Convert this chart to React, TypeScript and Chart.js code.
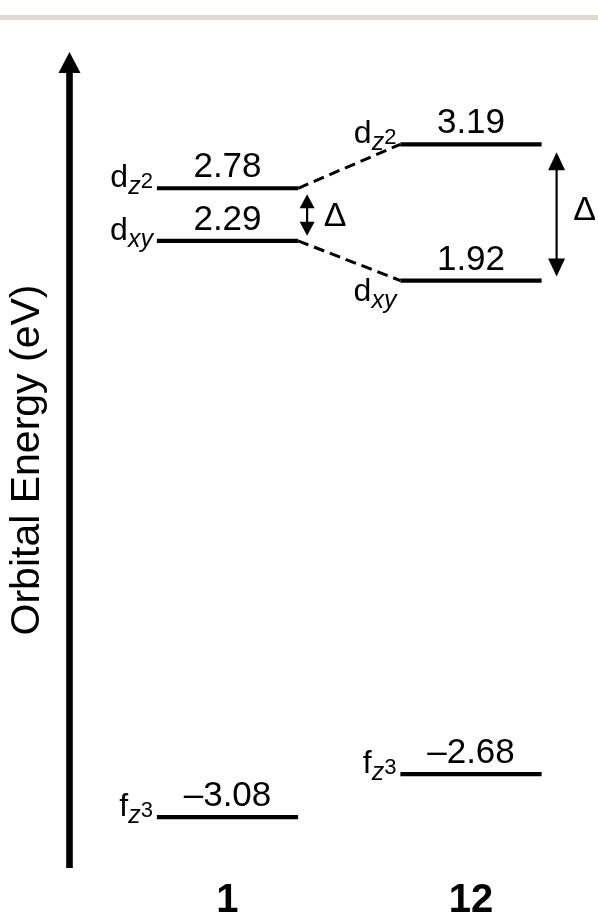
import React, { useEffect, useRef } from 'react';
import { Chart, registerables } from 'chart.js';

Chart.register(...registerables);

// ---- data ----
const compounds = ['1', '12'];
const compoundPositions = [1, 2];
const orbitals = ['dz2', 'dxy', 'fz3'];
const energies1 = [2.78, 2.29, -3.08];
const energies12 = [3.19, 1.92, -2.68];
const correlatedOrbitals = [0, 1]; // d orbitals joined by dashed lines
const axisTitle = 'Orbital Energy (eV)';
const gapSymbol = 'Δ';

const FONT = "'Liberation Sans', Arial, Helvetica, sans-serif";
const HW = 0.29; // half width of a level line (x units)

function fmt(v: number): string {
  return v < 0 ? '\u2013' + Math.abs(v).toFixed(2) : v.toFixed(2);
}

type Part = { t: string; size: number; italic: boolean; dy: number };

function orbitalParts(name: string): Part[] {
  const parts: Part[] = [{ t: name[0], size: 32, italic: false, dy: 0 }];
  const rest = name.slice(1);
  for (const ch of rest) {
    if (/[0-9]/.test(ch)) parts.push({ t: ch, size: 22, italic: false, dy: 1 });
    else parts.push({ t: ch, size: 25, italic: true, dy: 7 });
  }
  return parts;
}

function drawParts(ctx: CanvasRenderingContext2D, parts: Part[], xRight: number, baseline: number) {
  let total = 0;
  const widths: number[] = [];
  for (const p of parts) {
    ctx.font = `${p.italic ? 'italic ' : ''}${p.size}px ${FONT}`;
    const w = ctx.measureText(p.t).width;
    widths.push(w);
    total += w;
  }
  let xx = xRight - total;
  ctx.textAlign = 'left';
  ctx.textBaseline = 'alphabetic';
  parts.forEach((p, i) => {
    ctx.font = `${p.italic ? 'italic ' : ''}${p.size}px ${FONT}`;
    ctx.fillText(p.t, xx, baseline + p.dy);
    xx += widths[i];
  });
}

function drawDoubleArrow(ctx: CanvasRenderingContext2D, x: number, y1: number, y2: number, hw: number, hl: number) {
  ctx.save();
  ctx.fillStyle = '#000';
  ctx.strokeStyle = '#000';
  ctx.lineWidth = 2.2;
  ctx.beginPath();
  ctx.moveTo(x, y1 + hl - 1);
  ctx.lineTo(x, y2 - hl + 1);
  ctx.stroke();
  ctx.beginPath();
  ctx.moveTo(x, y1);
  ctx.lineTo(x - hw / 2, y1 + hl);
  ctx.lineTo(x + hw / 2, y1 + hl);
  ctx.closePath();
  ctx.fill();
  ctx.beginPath();
  ctx.moveTo(x, y2);
  ctx.lineTo(x - hw / 2, y2 - hl);
  ctx.lineTo(x + hw / 2, y2 - hl);
  ctx.closePath();
  ctx.fill();
  ctx.restore();
}

const diagramPlugin = {
  id: 'energyDiagram',
  beforeDraw(chart: any) {
    const { ctx, width, height } = chart;
    ctx.save();
    ctx.fillStyle = '#ffffff';
    ctx.fillRect(0, 0, width, height);
    ctx.fillStyle = '#dfdacb';
    ctx.fillRect(0, 15, width, 5);
    ctx.restore();
  },
  afterDatasetsDraw(chart: any) {
    const { ctx, chartArea } = chart;
    const xs = chart.scales.x;
    const ys = chart.scales.y;
    ctx.save();
    ctx.fillStyle = '#000';

    // vertical energy axis arrow
    const ax = chartArea.left - 0.5;
    ctx.fillRect(ax - 3.3, chartArea.top + 18, 6.6, chartArea.bottom - chartArea.top - 18);
    ctx.beginPath();
    ctx.moveTo(ax, chartArea.top);
    ctx.lineTo(ax - 11, chartArea.top + 21);
    ctx.lineTo(ax + 11, chartArea.top + 21);
    ctx.closePath();
    ctx.fill();

    const sets = [energies1, energies12];
    sets.forEach((es, ci) => {
      const pos = compoundPositions[ci];
      const xc = xs.getPixelForValue(pos);
      const xl = xs.getPixelForValue(pos - HW);
      es.forEach((e, oi) => {
        const yp = ys.getPixelForValue(e);
        // value
        ctx.font = `35px ${FONT}`;
        ctx.textAlign = 'center';
        ctx.textBaseline = 'alphabetic';
        ctx.fillText(fmt(e), xc, yp - 11);
        // orbital label
        const below = ci === 1 && oi === 1;
        if (below) {
          drawParts(ctx, orbitalParts(orbitals[oi]), xl - 4, yp + 20);
        } else {
          drawParts(ctx, orbitalParts(orbitals[oi]), xl - 4, yp - 1);
        }
      });
    });

    // gap arrows
    const top1 = ys.getPixelForValue(energies1[0]);
    const bot1 = ys.getPixelForValue(energies1[1]);
    const xa1 = xs.getPixelForValue(compoundPositions[0] + HW) + 9;
    drawDoubleArrow(ctx, xa1, top1 + 6, bot1 - 5, 15, 14);
    const top2 = ys.getPixelForValue(energies12[0]);
    const bot2 = ys.getPixelForValue(energies12[1]);
    const xa2 = xs.getPixelForValue(compoundPositions[1] + HW) + 15;
    drawDoubleArrow(ctx, xa2, top2 + 8, bot2 - 4, 17, 18);

    ctx.font = `34px ${FONT}`;
    ctx.textAlign = 'center';
    ctx.textBaseline = 'middle';
    ctx.fillText(gapSymbol, xa1 + 28, (top1 + bot1) / 2 + 2);
    ctx.fillText(gapSymbol, xa2 + 28, (top2 + bot2) / 2 - 2);
    ctx.restore();
  },
};

export default function App() {
  const ref = useRef<HTMLCanvasElement>(null);
  useEffect(() => {
    document.body.style.margin = '0';
    const canvas = ref.current;
    if (!canvas) return;
    const datasets: any[] = [];
    [energies1, energies12].forEach((es, ci) => {
      es.forEach((e, oi) => {
        datasets.push({
          label: `${compounds[ci]} ${orbitals[oi]}`,
          data: [
            { x: compoundPositions[ci] - HW, y: e },
            { x: compoundPositions[ci] + HW, y: e },
          ],
          borderColor: '#000',
          borderWidth: 4.2,
          borderCapStyle: 'butt',
          pointRadius: 0,
        });
      });
    });
    correlatedOrbitals.forEach((oi) => {
      datasets.push({
        label: `corr ${orbitals[oi]}`,
        data: [
          { x: compoundPositions[0] + HW, y: energies1[oi] },
          { x: compoundPositions[1] - HW, y: energies12[oi] },
        ],
        borderColor: '#000',
        borderWidth: 3,
        borderDash: [11, 6],
        borderCapStyle: 'butt',
        pointRadius: 0,
      });
    });

    const chart = new Chart(canvas, {
      type: 'line',
      data: { datasets },
      plugins: [diagramPlugin],
      options: {
        animation: false,
        responsive: true,
        maintainAspectRatio: false,
        layout: { padding: { top: 52, right: 0, bottom: 0, left: 0 } },
        plugins: { legend: { display: false }, tooltip: { enabled: false } },
        scales: {
          x: {
            type: 'linear',
            min: 0.3532,
            max: 2.5216,
            grid: { display: false, drawTicks: false },
            border: { display: false },
            afterBuildTicks: (s: any) => {
              s.ticks = compoundPositions.map((v) => ({ value: v }));
            },
            afterFit: (s: any) => {
              s.height = 49;
            },
            ticks: {
              autoSkip: false,
              maxRotation: 0,
              padding: 9,
              color: '#000',
              font: { family: FONT, size: 40, weight: 'bold' },
              callback: (v: any) => {
                const i = compoundPositions.indexOf(Number(v));
                return i >= 0 ? compounds[i] : '';
              },
            },
          },
          y: {
            type: 'linear',
            min: -3.555,
            max: 4.05,
            grid: { display: false, drawTicks: false },
            border: { display: false },
            ticks: { display: false },
            afterFit: (s: any) => {
              s.width = 70;
            },
            title: {
              display: true,
              text: axisTitle,
              color: '#000',
              font: { family: FONT, size: 41 },
              padding: { top: 3, bottom: 0 },
            },
          },
        },
      },
    });
    return () => chart.destroy();
  }, []);
  return (
    <div style={{ width: 598, height: 917, position: 'relative' }}>
      <canvas ref={ref} />
    </div>
  );
}
